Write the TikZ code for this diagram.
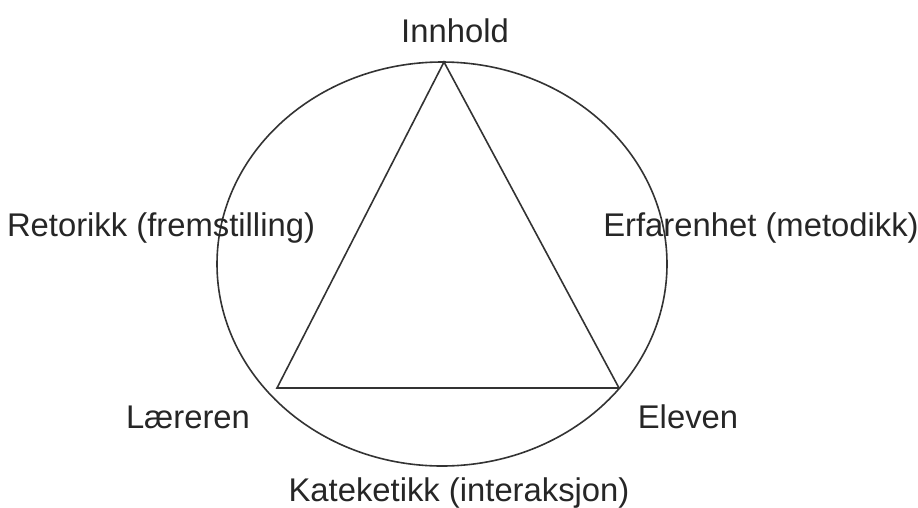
\documentclass[tikz,border=0pt]{standalone}
\usepackage{fontspec}
\setmainfont{Liberation Sans}
\begin{document}
\begin{tikzpicture}[x=1pt,y=-1pt,
  lbl/.style={anchor=base,inner sep=0pt,font=\fontsize{32.8}{38}\selectfont,text=black!85},
  shape line/.style={draw=black!80,line width=1.6pt}]
\useasboundingbox (0,0) rectangle (918,507);
\draw[shape line] (442,264) ellipse [x radius=225, y radius=202];
\coordinate (top) at (444,62);
\coordinate (bl) at (277,388);
\coordinate (br) at (619,388);
\draw[shape line,line join=miter] (top) -- (bl) -- (br) -- cycle;
\node[lbl] (innhold) at (455,42) {Innhold};
\node[lbl] (retorikk) at (161,236) {Retorikk (fremstilling)};
\node[lbl] (erfarenhet) at (761,236) {Erfarenhet (metodikk)};
\node[lbl] (laereren) at (188,428) {Læreren};
\node[lbl] (eleven) at (688,428) {Eleven};
\node[lbl] (kateketikk) at (459,501) {Kateketikk (interaksjon)};
\end{tikzpicture}
\end{document}
